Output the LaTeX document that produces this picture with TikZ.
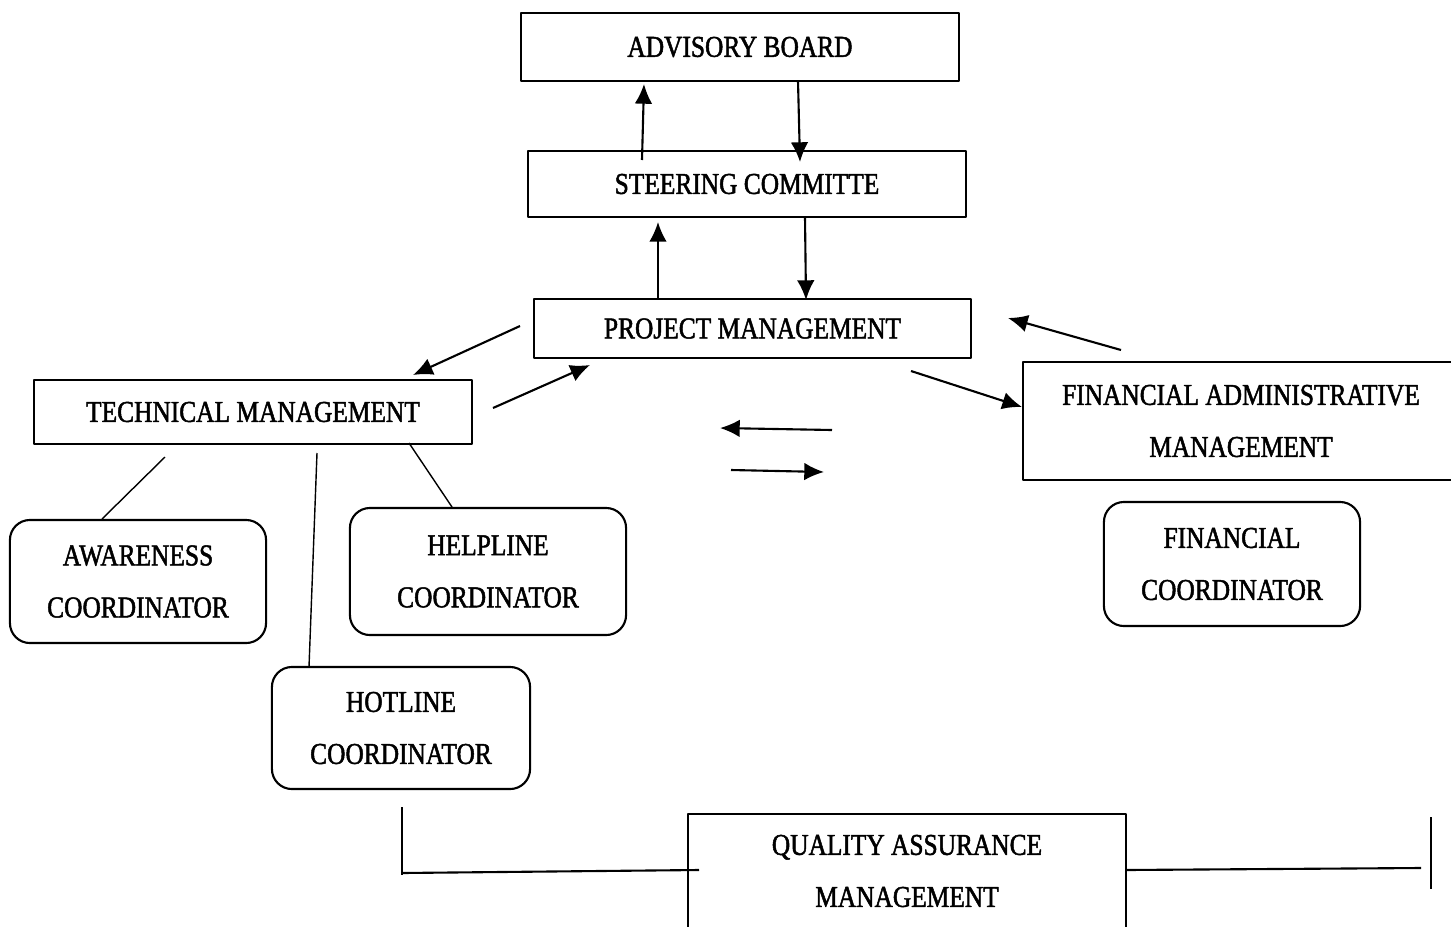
\documentclass[tikz,border=0pt]{standalone}
\usepackage{fontspec}
\setmainfont[FakeStretch=0.84,FakeBold=1.6]{Liberation Serif}
\usetikzlibrary{arrows.meta}
\begin{document}
\begin{tikzpicture}[x=0.01cm, y=-0.01cm, line join=round, line width=0.6pt, >={Latex[length=5.6pt,width=5pt]}]
    \tikzset{box style/.style={draw, rectangle, inner sep=0pt, align=center, font=\fontsize{8.6}{14.8}\selectfont},
             coord style/.style={box style, rounded corners=0.2cm}}
    \useasboundingbox (0,0) rectangle (1451,927);
    \clip (0,0) rectangle (1451,927);
    % boxes
    \node[box style, minimum width=4.38cm, minimum height=0.68cm] (advisory) at (740,47) {ADVISORY BOARD};
    \node[box style, minimum width=4.38cm, minimum height=0.66cm] (steering) at (747,184) {STEERING COMMITTE};
    \node[box style, minimum width=4.37cm, minimum height=0.59cm] (project) at (752.5,328.5) {PROJECT MANAGEMENT};
    \node[box style, minimum width=4.38cm, minimum height=0.64cm] (technical) at (253,412) {TECHNICAL MANAGEMENT};
    \node[box style, minimum width=4.60cm, minimum height=1.18cm, anchor=west] (finadmin) at (1022,421) {};
    \node[font=\fontsize{8.6}{14.8}\selectfont, align=center] (finadmintext) at (1241,421) {FINANCIAL ADMINISTRATIVE\\MANAGEMENT};
    \node[coord style, minimum width=2.56cm, minimum height=1.23cm] (awareness) at (138,581.5) {AWARENESS\\COORDINATOR};
    \node[coord style, minimum width=2.76cm, minimum height=1.27cm] (helpline) at (488,571.5) {HELPLINE\\COORDINATOR};
    \node[coord style, minimum width=2.58cm, minimum height=1.22cm] (hotline) at (401,728) {HOTLINE\\COORDINATOR};
    \node[coord style, minimum width=2.56cm, minimum height=1.24cm] (fincoord) at (1232,564) {FINANCIAL\\COORDINATOR};
    \node[box style, minimum width=4.38cm, minimum height=1.50cm, anchor=north] (quality) at (907,813) {};
    \node[font=\fontsize{8.6}{14.8}\selectfont, align=center] (qualitytext) at (907,871) {QUALITY ASSURANCE\\MANAGEMENT};
    % free ends
    \coordinate (a1) at (642,160);  \coordinate (a2) at (644,84);
    \coordinate (b1) at (798,81);   \coordinate (b2) at (800,162);
    \coordinate (c1) at (658,299);  \coordinate (c2) at (658,222);
    \coordinate (d1) at (805,217);  \coordinate (d2) at (806,300);
    \coordinate (e1) at (520,326);  \coordinate (e2) at (413,375);
    \coordinate (f1) at (493,408);  \coordinate (f2) at (590,365);
    \coordinate (g1) at (1121,350); \coordinate (g2) at (1008,318);
    \coordinate (h1) at (911,371);  \coordinate (h2) at (1022,407);
    \coordinate (i1) at (832,430);  \coordinate (i2) at (720,428);
    \coordinate (j1) at (731,470);  \coordinate (j2) at (824,472);
    \coordinate (k1) at (165,457);  \coordinate (k2) at (102,519);
    \coordinate (l1) at (317,453);  \coordinate (l2) at (309,667);
    \coordinate (m1) at (409,443);  \coordinate (m2) at (452,507);
    \coordinate (n1) at (402,807);  \coordinate (n2) at (402,875);
    \coordinate (n3) at (402,873);  \coordinate (n4) at (699,870);
    \coordinate (o1) at (1126,870); \coordinate (o2) at (1421,868);
    \coordinate (o3) at (1431,817); \coordinate (o4) at (1431,889);
    % arrows
    \draw[->] (a1) -- (a2);
    \draw[->] (b1) -- (b2);
    \draw[->] (c1) -- (c2);
    \draw[->] (d1) -- (d2);
    \draw[->] (e1) -- (e2);
    \draw[->] (f1) -- (f2);
    \draw[->] (g1) -- (g2);
    \draw[->] (h1) -- (h2);
    \draw[->] (i1) -- (i2);
    \draw[->] (j1) -- (j2);
    % lines
    \draw[line width=0.4pt] (k1) -- (k2);
    \draw[line width=0.4pt] (l1) -- (l2);
    \draw[line width=0.4pt] (m1) -- (m2);
    \draw (n1) -- (n2);
    \draw (n3) -- (n4);
    \draw (o1) -- (o2);
    \draw (o3) -- (o4);
\end{tikzpicture}
\end{document}
